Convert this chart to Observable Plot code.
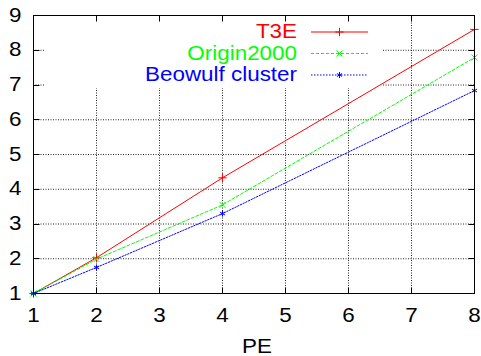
<!DOCTYPE html>
<html><head><meta charset="utf-8">
<script src="https://cdn.jsdelivr.net/npm/d3@7"></script>
<script src="https://cdn.jsdelivr.net/npm/@observablehq/plot@0.6"></script>
<style>
html,body{margin:0;padding:0;background:#fff}
svg text{font-family:"Liberation Sans",Arial,Helvetica,sans-serif}
</style></head><body><div id="chart"></div>
<script>
// ---- data ----
const pe = [1, 2, 4, 8];
const t3e = [1, 2.03, 4.33, 8.6];
const origin2000 = [1, 1.99, 3.55, 7.79];
const beowulf = [1, 1.75, 3.30, 6.84];
const seriesNames = ["T3E", "Origin2000", "Beowulf cluster"];
const seriesColors = ["#ff0000", "#00ff00", "#0000ff"];
const xTicks = [1, 2, 3, 4, 5, 6, 7, 8];
const yTicks = [1, 2, 3, 4, 5, 6, 7, 8, 9];
const xLabel = "PE";

const seriesValues = [t3e, origin2000, beowulf];
const dashes = ["none", "3,2", "1.5,1.5"];
const symbolNames = ["plus", "times", "asterisk"];
const d3Symbols = [d3.symbolPlus, d3.symbolTimes, d3.symbolAsterisk];
const R = 2.8;

const rows = [];
seriesNames.forEach((name, i) => pe.forEach((x, j) => rows.push({series: name, idx: i, pe: x, value: seriesValues[i][j]})));

function legendMark(index, scales, values, dims) {
  const Rx = dims.width - dims.marginRight, T = dims.marginTop, L = dims.marginLeft;
  const g = d3.create("svg:g");
  g.append("rect").attr("x", L + 12).attr("y", T + 1).attr("width", (Rx - 92) - (L + 12)).attr("height", 72).attr("fill", "white");
  seriesNames.forEach((name, i) => {
    const cy = T + 16.5 + i * 21.5;
    g.append("text").attr("x", Rx - 177).attr("y", cy).attr("dy", "0.35em")
      .attr("text-anchor", "end").attr("fill", seriesColors[i]).attr("font-size", "19.5px").text(name);
    g.append("line").attr("x1", Rx - 163).attr("x2", Rx - 106).attr("y1", cy + 0.5).attr("y2", cy + 0.5)
      .attr("stroke", seriesColors[i]).attr("stroke-width", 1).attr("stroke-dasharray", dashes[i]);
    g.append("path").attr("transform", `translate(${Rx - 134.5},${cy + 0.5})`)
      .attr("d", d3.symbol(d3Symbols[i], R * R * Math.PI)())
      .attr("stroke", seriesColors[i]).attr("fill", "none").attr("stroke-width", 1);
  });
  return g.node();
}

function frameTicks(index, scales, values, dims) {
  const L = dims.marginLeft, Rx = dims.width - dims.marginRight, T = dims.marginTop, B = dims.height - dims.marginBottom;
  const len = 6;
  const g = d3.create("svg:g").attr("stroke", "black").attr("stroke-width", 1);
  for (const t of xTicks) {
    const px = Math.round(scales.x(t)) + 0.5;
    g.append("line").attr("x1", px).attr("x2", px).attr("y1", B + 0.5).attr("y2", B + 0.5 - len);
    g.append("line").attr("x1", px).attr("x2", px).attr("y1", T + 0.5).attr("y2", T + 0.5 + len);
  }
  for (const t of yTicks) {
    const py = Math.round(scales.y(t)) + 0.5;
    g.append("line").attr("y1", py).attr("y2", py).attr("x1", L + 0.5).attr("x2", L + 0.5 + len);
    g.append("line").attr("y1", py).attr("y2", py).attr("x1", Rx + 0.5).attr("x2", Rx + 0.5 - len);
  }
  return g.node();
}

const marks = [
  Plot.ruleX(xTicks.slice(1, -1), {stroke: "#000", strokeOpacity: 0.85, strokeDasharray: "1,1.5"}),
  Plot.ruleY(yTicks.slice(1, -1), {stroke: "#000", strokeOpacity: 0.85, strokeDasharray: "1,1.5"}),
  legendMark
];
seriesNames.forEach((name, i) => {
  marks.push(Plot.line(rows.filter(d => d.idx === i), {x: "pe", y: "value", stroke: seriesColors[i], strokeWidth: 1, strokeDasharray: dashes[i]}));
  marks.push(Plot.dot(rows.filter(d => d.idx === i), {x: "pe", y: "value", stroke: seriesColors[i], symbol: symbolNames[i], r: R, strokeWidth: 1}));
});
marks.push(Plot.frame({stroke: "black", strokeWidth: 1}));
marks.push(frameTicks);
marks.push(Plot.text([xLabel], {text: d => d, frameAnchor: "bottom", dy: 59, dx: 3, fontSize: 19.5, fill: "black"}));

const chart = Plot.plot({
  width: 481,
  height: 356,
  marginLeft: 33,
  marginRight: 7,
  marginTop: 15,
  marginBottom: 63,
  style: {fontFamily: "Liberation Sans, Arial, Helvetica, sans-serif", fontSize: "19.5px", color: "black", background: "white", overflow: "visible"},
  x: {domain: [1, 8], ticks: xTicks, tickSize: 0, tickPadding: 15, label: null, tickFormat: d => String(d)},
  y: {domain: [1, 9], ticks: yTicks, tickSize: 0, tickPadding: 12, label: null, tickFormat: d => String(d)},
  marks
});
document.getElementById("chart").appendChild(chart);

// widen glyphs to match reference proportions, preserving existing transforms
chart.querySelectorAll("text").forEach(t => {
  const a = getComputedStyle(t).textAnchor;
  let pre = "";
  const tl = t.transform && t.transform.baseVal;
  if (tl && tl.numberOfItems > 0) {
    const m = tl.consolidate().matrix;
    pre = `matrix(${m.a},${m.b},${m.c},${m.d},${m.e},${m.f}) `;
  }
  t.style.transformBox = "fill-box";
  t.style.transformOrigin = a === "end" ? "right center" : a === "middle" ? "center" : "left center";
  t.style.transform = pre + "scaleX(1.15)";
});
</script>
</body></html>
